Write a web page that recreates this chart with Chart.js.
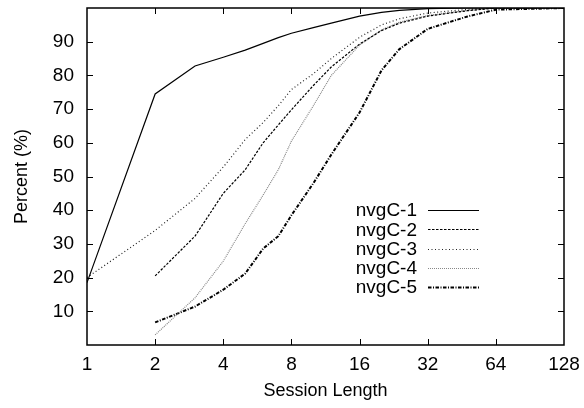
<!DOCTYPE html>
<html lang="en">
<head>
    <meta charset="UTF-8">
    <title>Session length</title>
    <style>
        body { margin: 0; background: #fff; }
    </style>
</head>
<body>
    <canvas id="myChart" width="584" height="408"></canvas>
    <script src="https://cdn.jsdelivr.net/npm/chart.js"></script>
    <script>
        // values
        const sessionLengths = [1, 2, 3, 4, 5, 6, 7, 8, 10, 12, 16, 20, 24, 32, 48, 64, 128]
        const nvgC1 = [18.5, 74.5, 82.8, 85.4, 87.5, 89.5, 91.2, 92.5, 94.2, 95.5, 97.6, 98.7, 99.3, 99.8, 100, 100, 100]
        const nvgC2 = [null, 20.5, 32.3, 45, 52, 60, 65.3, 69.8, 77, 82.5, 89.3, 93.3, 95.5, 97.6, 99.2, 100, 100]
        const nvgC3 = [20, 34, 43.5, 52.8, 61, 66, 71, 75.8, 80.5, 85, 91.3, 95, 96.8, 98.5, 99.6, 100, 100]
        const nvgC4 = [null, 3, 14, 24.9, 36, 44.5, 52, 60.5, 71, 80, 89, 93.5, 95.8, 97.8, 99.3, 100, 100]
        const nvgC5 = [null, 6.7, 11.4, 16.4, 21.2, 28.6, 32.3, 38.5, 48, 56.5, 69, 81.5, 87.8, 93.8, 97.5, 99.5, 100]
        const seriesNames = ['nvgC-1', 'nvgC-2', 'nvgC-3', 'nvgC-4', 'nvgC-5']
        const xTicks = [1, 2, 4, 8, 16, 32, 64, 128]
        const yTicks = [10, 20, 30, 40, 50, 60, 70, 80, 90]

        const fontFamily = '"Liberation Sans", Arial, Helvetica, sans-serif'
        Chart.defaults.font.family = fontFamily
        Chart.defaults.font.size = 19
        Chart.defaults.color = '#000'

        const styles = [
            { borderColor: '#000', borderWidth: 1.2, borderDash: [] },
            { borderColor: '#000', borderWidth: 1.2, borderDash: [2.5, 1.5] },
            { borderColor: '#222', borderWidth: 1.2, borderDash: [1, 2.5] },
            { borderColor: '#888', borderWidth: 1.2, borderDash: [1, 1] },
            { borderColor: '#000', borderWidth: 2, borderDash: [3.5, 1.5, 1, 1.5] }
        ]

        const toPoints = (vals) => sessionLengths.map((x, i) => ({ x: x, y: vals[i] }))

        // fixed plot box, like the gnuplot original
        const fixBox = (size) => (scale) => {
            if (scale.isHorizontal()) scale.height = size
            else scale.width = size
            scale.paddingTop = 0
            scale.paddingBottom = 0
            scale.paddingLeft = 0
            scale.paddingRight = 0
        }

        const frame = {
            id: 'frame',
            afterDatasetsDraw(chart) {
                const { ctx, chartArea: a, scales: { x, y } } = chart
                ctx.save()
                ctx.strokeStyle = '#000'
                ctx.lineWidth = 1.5
                ctx.strokeRect(a.left, a.top, a.right - a.left, a.bottom - a.top)
                ctx.lineWidth = 1
                ctx.beginPath()
                xTicks.slice(1, -1).forEach(v => {
                    const px = Math.round(x.getPixelForValue(v)) + 0.5
                    ctx.moveTo(px, a.bottom); ctx.lineTo(px, a.bottom - 6)
                    ctx.moveTo(px, a.top); ctx.lineTo(px, a.top + 6)
                })
                yTicks.forEach(v => {
                    const py = Math.round(y.getPixelForValue(v)) + 0.5
                    ctx.moveTo(a.left, py); ctx.lineTo(a.left + 6, py)
                    ctx.moveTo(a.right, py); ctx.lineTo(a.right - 6, py)
                })
                ctx.stroke()

                // gnuplot style key
                ctx.font = '19px ' + fontFamily
                ctx.textAlign = 'right'
                ctx.textBaseline = 'middle'
                ctx.fillStyle = '#000'
                chart.data.datasets.forEach((ds, i) => {
                    const ly = 210 + i * 19.3
                    ctx.fillText(ds.label, 417, ly + 1)
                    ctx.beginPath()
                    ctx.strokeStyle = ds.borderColor
                    ctx.lineWidth = ds.borderWidth
                    ctx.setLineDash(ds.borderDash)
                    ctx.moveTo(428, Math.round(ly) + 0.5)
                    ctx.lineTo(479, Math.round(ly) + 0.5)
                    ctx.stroke()
                })
                ctx.restore()
            }
        }

        const ctx = document.getElementById('myChart')
        const myChart = new Chart(ctx, {
            type: 'line',
            data: {
                datasets: [nvgC1, nvgC2, nvgC3, nvgC4, nvgC5].map((vals, i) => ({
                    label: seriesNames[i],
                    data: toPoints(vals),
                    borderColor: styles[i].borderColor,
                    borderWidth: styles[i].borderWidth,
                    borderDash: styles[i].borderDash,
                    pointRadius: 0,
                    tension: 0,
                    fill: false
                }))
            },
            options: {
                responsive: false,
                animation: false,
                layout: { padding: { top: 8, right: 20, left: 0, bottom: 0 } },
                plugins: {
                    legend: { display: false },
                    tooltip: { enabled: false }
                },
                scales: {
                    x: {
                        type: 'logarithmic',
                        min: 1,
                        max: 128,
                        grid: { display: false, drawTicks: false },
                        border: { display: false },
                        afterBuildTicks: (scale) => { scale.ticks = xTicks.map(v => ({ value: v })) },
                        afterFit: fixBox(63),
                        ticks: { padding: 8, maxRotation: 0, callback: (v) => String(v) },
                        title: { display: true, text: 'Session Length', font: { size: 18 }, padding: { top: 0, bottom: 6 } }
                    },
                    y: {
                        min: 0,
                        max: 100,
                        grid: { display: false, drawTicks: false },
                        border: { display: false },
                        afterBuildTicks: (scale) => { scale.ticks = yTicks.map(v => ({ value: v })) },
                        afterFit: fixBox(87),
                        ticks: { padding: 13 },
                        title: { display: true, text: 'Percent (%)', font: { size: 18 }, padding: { top: 11, bottom: 0 } }
                    }
                }
            },
            plugins: [frame]
        })
    </script>
</body>
</html>
